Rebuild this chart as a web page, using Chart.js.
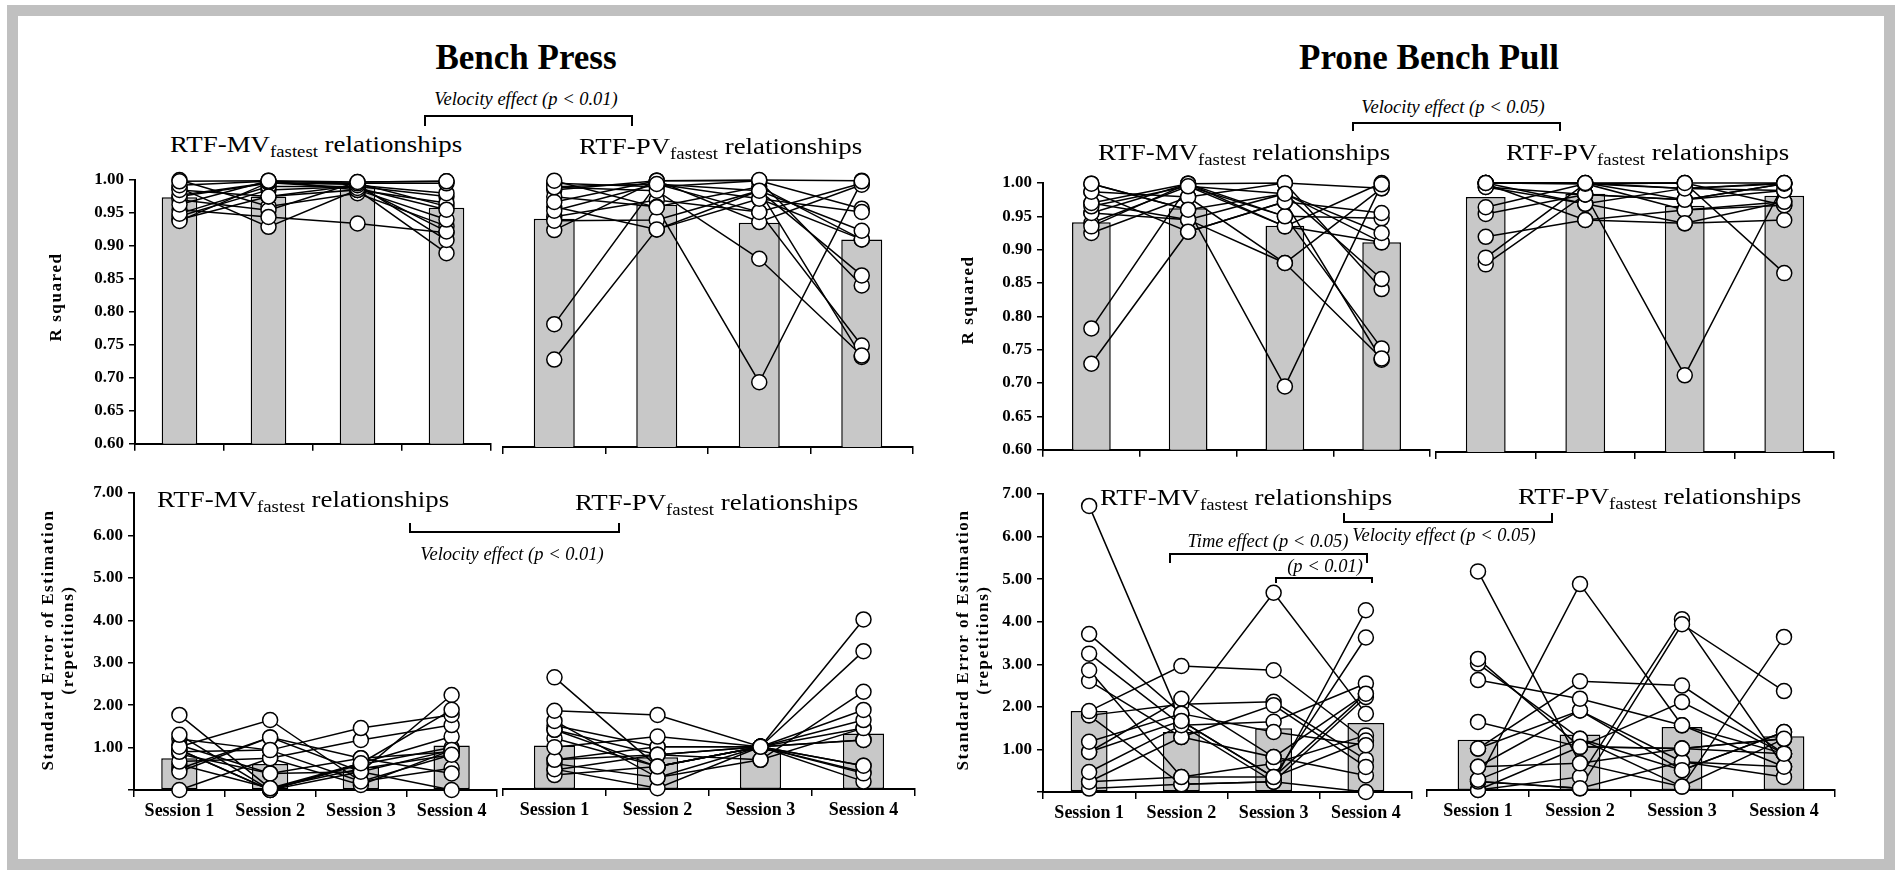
<!DOCTYPE html>
<html>
<head>
<meta charset="utf-8">
<script src="https://cdn.jsdelivr.net/npm/chart.js@4.4.0/dist/chart.umd.min.js"></script>
<style>
  html, body { margin: 0; padding: 0; background: #fff; }
  body { width: 1903px; height: 873px; position: relative; overflow: hidden;
         font-family: "Liberation Serif", "Times New Roman", serif; color: #000; }
  #frame { position: absolute; left: 7px; top: 5px; width: 1888px; height: 865px;
           border: 11px solid #c0c0c0; box-sizing: border-box; }
  canvas { position: absolute; }
  .t { position: absolute; white-space: nowrap; line-height: 1; }
  .brk { position: absolute; border: 2px solid #000; box-sizing: border-box; }
</style>
</head>
<body>
<div id="frame"></div>
<script>
/*
* Data
*/

// x categories
const sessions = ['Session 1', 'Session 2', 'Session 3', 'Session 4'];

// y tick labels
const r2TickLabels = ['0.60', '0.65', '0.70', '0.75', '0.80', '0.85', '0.90', '0.95', '1.00'];
const seeTickLabels = ['', '1.00', '2.00', '3.00', '4.00', '5.00', '6.00', '7.00'];

// group means (grey bars)
const bpR2MvMean = [0.974, 0.975, 0.990, 0.958];
const bpR2PvMean = [0.942, 0.963, 0.936, 0.911];
const pbpR2MvMean = [0.941, 0.962, 0.936, 0.911];
const pbpR2PvMean = [0.979, 0.984, 0.966, 0.981];
const bpSeeMvMean = [0.75, 0.61, 0.55, 1.05];
const bpSeePvMean = [1.03, 0.75, 0.93, 1.31];
const pbpSeeMvMean = [1.90, 1.41, 1.50, 1.62];
const pbpSeePvMean = [1.19, 1.31, 1.49, 1.27];

// individual subjects, one row each: session 1..4
const bpR2MvSubjects = [
  [0.998, 0.999, 0.997, 0.998],
  [0.992, 0.998, 0.995, 0.995],
  [0.985, 0.975, 0.992, 0.980],
  [0.977, 0.996, 0.988, 0.955],
  [0.963, 0.999, 0.985, 0.940],
  [0.949, 0.990, 0.990, 0.922],
  [0.938, 0.996, 0.993, 0.909],
  [0.940, 0.975, 0.985, 0.889],
  [0.955, 0.944, 0.934, 0.920],
  [0.988, 0.929, 0.985, 0.965],
  [0.970, 0.954, 0.997, 0.998],
  [0.945, 0.985, 0.990, 0.975],
  [1.000, 0.960, 0.980, 0.930],
  [0.975, 0.995, 0.995, 0.960]
];
const bpR2PvSubjects = [
  [0.784, 0.994, 0.984, 0.924],
  [0.731, 0.926, 0.972, 0.952],
  [0.999, 0.959, 0.697, 0.998],
  [0.989, 0.984, 0.882, 0.737],
  [0.967, 0.999, 1.000, 0.999],
  [0.954, 0.994, 0.952, 0.752],
  [0.939, 0.940, 0.984, 0.857],
  [0.925, 0.999, 0.937, 0.993],
  [0.995, 0.990, 0.999, 0.842],
  [0.975, 0.960, 0.990, 0.911],
  [0.960, 0.926, 0.984, 0.735],
  [0.985, 0.999, 0.999, 0.957],
  [0.945, 0.970, 0.952, 0.995],
  [0.990, 0.994, 0.972, 0.911]
];
const pbpR2MvSubjects = [
  [0.782, 0.995, 0.984, 0.925],
  [0.729, 0.927, 0.972, 0.955],
  [0.999, 0.960, 0.695, 0.998],
  [0.987, 0.979, 0.880, 0.737],
  [0.970, 0.999, 1.000, 0.992],
  [0.965, 0.995, 0.950, 0.752],
  [0.955, 0.945, 0.984, 0.856],
  [0.935, 0.999, 0.935, 1.000],
  [0.925, 0.979, 1.000, 0.841],
  [0.999, 0.960, 0.984, 0.911],
  [0.987, 0.927, 0.972, 0.735],
  [0.955, 0.999, 0.950, 0.947],
  [0.970, 0.945, 0.880, 0.992],
  [0.940, 0.995, 0.935, 0.911]
];
const pbpR2PvSubjects = [
  [1.000, 1.000, 1.000, 1.000],
  [1.000, 0.999, 0.992, 0.999],
  [0.994, 0.983, 0.714, 1.000],
  [0.964, 0.999, 1.000, 0.866],
  [0.954, 0.983, 0.975, 0.989],
  [0.920, 0.945, 0.940, 0.972],
  [0.889, 0.999, 0.960, 0.967],
  [0.879, 0.983, 0.975, 0.999],
  [1.000, 0.969, 0.940, 0.945],
  [1.000, 1.000, 0.992, 0.989],
  [0.999, 0.945, 0.960, 0.972],
  [1.000, 0.999, 1.000, 0.967],
  [0.994, 0.969, 0.992, 1.000],
  [1.000, 1.000, 0.975, 0.999]
];
const bpSeeMvSubjects = [
  [1.77, 0.04, 0.63, 1.89],
  [1.30, 0.00, 0.43, 2.24],
  [1.02, 1.65, 0.20, 0.83],
  [0.90, 0.94, 1.46, 1.77],
  [0.67, 0.75, 0.12, 0.94],
  [0.43, 1.24, 0.75, 0.39],
  [0.00, 0.75, 1.18, 1.53],
  [1.06, 0.39, 0.43, 0.00],
  [0.95, 0.00, 0.63, 1.26],
  [1.20, 0.94, 0.20, 0.51],
  [0.60, 0.04, 0.50, 0.83],
  [0.85, 0.39, 0.75, 0.90],
  [0.50, 1.24, 0.43, 0.94],
  [0.95, 0.00, 0.60, 1.00]
];
const bpSeePvSubjects = [
  [2.64, 0.53, 1.00, 4.01],
  [1.85, 1.75, 1.00, 3.26],
  [1.61, 0.27, 0.69, 2.30],
  [1.40, 0.53, 1.00, 1.87],
  [0.99, 1.24, 1.00, 0.55],
  [0.69, 0.81, 1.00, 1.63],
  [0.47, 0.02, 1.00, 1.44],
  [0.33, 0.53, 1.00, 0.37],
  [1.40, 0.81, 1.00, 1.16],
  [0.69, 1.00, 1.00, 0.18],
  [1.20, 0.53, 1.00, 0.55],
  [0.60, 0.27, 1.00, 1.16],
  [1.50, 1.00, 1.00, 0.40],
  [0.45, 0.81, 0.69, 1.44]
];
const pbpSeeMvSubjects = [
  [6.72, 1.67, 0.35, 2.31],
  [3.71, 1.84, 1.41, 1.10],
  [3.25, 1.57, 0.24, 4.27],
  [2.86, 0.35, 0.35, 3.63],
  [2.61, 1.29, 2.04, 0.59],
  [1.90, 2.96, 2.86, 1.21],
  [1.80, 0.18, 0.24, 2.23],
  [1.18, 1.84, 4.68, 1.84],
  [0.94, 2.19, 0.82, 0.39],
  [0.47, 1.57, 1.65, 2.55],
  [0.24, 0.35, 0.67, 1.33],
  [0.08, 0.18, 0.24, 0.00],
  [1.80, 2.06, 2.12, 0.76],
  [0.94, 1.67, 0.35, 1.21],
  [0.24, 1.29, 0.82, 2.31]
];
const pbpSeePvSubjects = [
  [5.17, 0.63, 0.08, 1.21],
  [3.10, 1.02, 2.08, 0.86],
  [2.99, 1.21, 0.47, 1.37],
  [2.60, 2.16, 1.53, 0.55],
  [1.61, 1.02, 0.98, 1.21],
  [0.98, 2.57, 2.47, 0.86],
  [0.55, 1.88, 0.67, 0.31],
  [0.24, 4.87, 1.53, 0.86],
  [0.20, 0.04, 3.92, 2.34],
  [0.00, 0.31, 4.04, 0.55],
  [0.24, 1.21, 0.08, 3.62],
  [0.55, 0.63, 0.98, 1.21],
  [0.98, 1.88, 0.47, 1.37],
  [0.20, 0.04, 0.67, 0.55],
  [0.00, 1.02, 0.98, 0.86]
];

/*
* Panels
*/

const serif = '"Liberation Serif", "Times New Roman", serif';

function panel(area, o) {
  // area = chart area in page pixels
  const yW = o.yAxis ? 70 : 0;
  const xH = o.sessionLabels ? 42 : 12;
  const padT = 16, padR = 10, padL = o.yAxis ? 0 : 4;
  const cv = document.createElement('canvas');
  cv.width = area.r - area.l + yW + padL + padR;
  cv.height = area.b - area.t + padT + xH;
  cv.style.left = (area.l - yW - padL) + 'px';
  cv.style.top = (area.t - padT) + 'px';
  document.body.appendChild(cv);

  const datasets = [{
    type: 'bar', data: o.mean, backgroundColor: '#c8c8c8', borderColor: '#000',
    borderWidth: 1.5, borderSkipped: false, barPercentage: 0.4, categoryPercentage: 1, order: 3
  }];
  o.subjects.forEach(function (s) {
    datasets.push({ type: 'line', data: s, borderColor: '#000', borderWidth: 1.5,
      pointRadius: 0, fill: false, tension: 0, clip: false, order: 2 });
  });
  o.subjects.forEach(function (s) {
    datasets.push({ type: 'line', data: s, showLine: false, pointRadius: 7.5,
      pointBackgroundColor: '#fff', pointBorderColor: '#000', pointBorderWidth: 1.5,
      clip: false, order: 1 });
  });

  return new Chart(cv, {
    type: 'bar',
    data: { labels: sessions, datasets: datasets },
    options: {
      responsive: false, animation: false, devicePixelRatio: 1, events: [],
      layout: { autoPadding: false, padding: { left: padL, right: padR, top: padT, bottom: 0 } },
      plugins: { legend: { display: false }, tooltip: { enabled: false } },
      scales: {
        x: {
          type: 'category', offset: true,
          grid: { offset: true, drawOnChartArea: false, drawTicks: true, tickLength: 7, color: '#000', lineWidth: 1.5 },
          border: { display: true, color: '#000', width: 2 },
          ticks: { display: !!o.sessionLabels, color: '#000', padding: 4, maxRotation: 0, autoSkip: false,
                   font: { family: serif, size: 18, weight: 'bold' } },
          afterFit: function (s) { s.height = xH; }
        },
        y: {
          display: o.yAxis, min: o.min, max: o.max,
          grid: { drawOnChartArea: false, drawTicks: true, tickLength: 6, color: '#000', lineWidth: 1.5 },
          border: { display: true, color: '#000', width: 2 },
          ticks: { stepSize: o.step, color: '#000', padding: 5,
                   font: { family: serif, size: 17, weight: 'bold' },
                   callback: function (v, i) { return o.tickLabels[i]; } },
          afterFit: function (s) { s.width = yW; }
        }
      }
    }
  });
}

const r2 = { min: 0.6, max: 1.0, step: 0.05, tickLabels: r2TickLabels };
const see = { min: 0, max: 7, step: 1, tickLabels: seeTickLabels, sessionLabels: true };

panel({ l: 135, r: 491, t: 180, b: 447 }, Object.assign({ yAxis: true, mean: bpR2MvMean, subjects: bpR2MvSubjects }, r2));
panel({ l: 503, r: 913, t: 180, b: 447 }, Object.assign({ yAxis: false, mean: bpR2PvMean, subjects: bpR2PvSubjects }, r2));
panel({ l: 1043, r: 1430, t: 183, b: 453 }, Object.assign({ yAxis: true, mean: pbpR2MvMean, subjects: pbpR2MvSubjects }, r2));
panel({ l: 1436, r: 1834, t: 183, b: 452 }, Object.assign({ yAxis: false, mean: pbpR2PvMean, subjects: pbpR2PvSubjects }, r2));
panel({ l: 134, r: 497, t: 493, b: 790 }, Object.assign({ yAxis: true, mean: bpSeeMvMean, subjects: bpSeeMvSubjects }, see));
panel({ l: 503, r: 915, t: 493, b: 789 }, Object.assign({ yAxis: false, mean: bpSeePvMean, subjects: bpSeePvSubjects }, see));
panel({ l: 1043, r: 1412, t: 494, b: 792 }, Object.assign({ yAxis: true, mean: pbpSeeMvMean, subjects: pbpSeeMvSubjects }, see));
panel({ l: 1427, r: 1835, t: 494, b: 790 }, Object.assign({ yAxis: false, mean: pbpSeePvMean, subjects: pbpSeePvSubjects }, see));

/*
* Text and brackets
*/

function text(html, x, base, size, css, align) {
  const d = document.createElement('div');
  d.className = 't';
  d.innerHTML = html;
  d.style.fontSize = size + 'px';
  d.style.left = x + 'px';
  d.style.top = (base - 0.8375 * size) + 'px';
  if (css) d.style.cssText += css;
  if (align === 'center') d.style.transform = 'translateX(-50%)';
  document.body.appendChild(d);
  return d;
}

function rel(v, x, base) {
  const d = text('RTF-' + v + '<span style="font-size:16px;vertical-align:-5px">fastest</span> relationships',
                 x, base, 23, '');
  d.style.transform = 'scaleX(1.17)';
  d.style.transformOrigin = 'left top';
}

function vlabel(html, cx, cy) {
  const d = document.createElement('div');
  d.className = 't';
  d.innerHTML = html;
  d.style.cssText += 'font-size:17px;font-weight:bold;letter-spacing:1.6px;line-height:20px;text-align:center;' +
    'left:' + cx + 'px;top:' + cy + 'px;transform:translate(-50%,-50%) rotate(-90deg);';
  document.body.appendChild(d);
}

function bracket(x1, x2, yLine, yLeg) {
  const d = document.createElement('div');
  d.className = 'brk';
  d.style.left = x1 + 'px';
  d.style.width = (x2 - x1) + 'px';
  d.style.top = Math.min(yLine, yLeg) + 'px';
  d.style.height = Math.abs(yLeg - yLine) + 'px';
  if (yLeg > yLine) d.style.borderBottom = 'none'; else d.style.borderTop = 'none';
  document.body.appendChild(d);
}

const it = 'font-style:italic;';

text('Bench Press', 526, 69.5, 35, 'font-weight:bold;', 'center');
text('Prone Bench Pull', 1429, 69.5, 35, 'font-weight:bold;', 'center');

text('Velocity effect (<i>p</i> &lt; 0.01)', 526, 105, 18.5, it, 'center');
bracket(424, 633, 115, 126);
text('Velocity effect (<i>p</i> &lt; 0.05)', 1453, 113, 18.5, it, 'center');
bracket(1352, 1561, 122, 131);

rel('MV', 170, 152);
rel('PV', 579, 154);
rel('MV', 1098, 160);
rel('PV', 1506, 160);
rel('MV', 157, 507);
rel('PV', 575, 510);
rel('MV', 1100, 505);
rel('PV', 1518, 504);

bracket(409, 620, 533, 523);
text('Velocity effect (<i>p</i> &lt; 0.01)', 512, 560, 18.5, it, 'center');

bracket(1343, 1553, 523, 513);
text('Velocity effect (<i>p</i> &lt; 0.05)', 1444, 541, 18.5, it, 'center');
text('Time effect (<i>p</i> &lt; 0.05)', 1268, 547, 18.5, it, 'center');
bracket(1169, 1368, 553, 563);
text('(<i>p</i> &lt; 0.01)', 1325, 572, 18.5, it, 'center');
bracket(1275, 1373, 577, 583);

vlabel('R squared', 56, 297);
vlabel('R squared', 968, 300);
vlabel('Standard Error of Estimation<br>(repetitions)', 58, 640);
vlabel('Standard Error of Estimation<br>(repetitions)', 973, 640);
</script>
</body>
</html>
